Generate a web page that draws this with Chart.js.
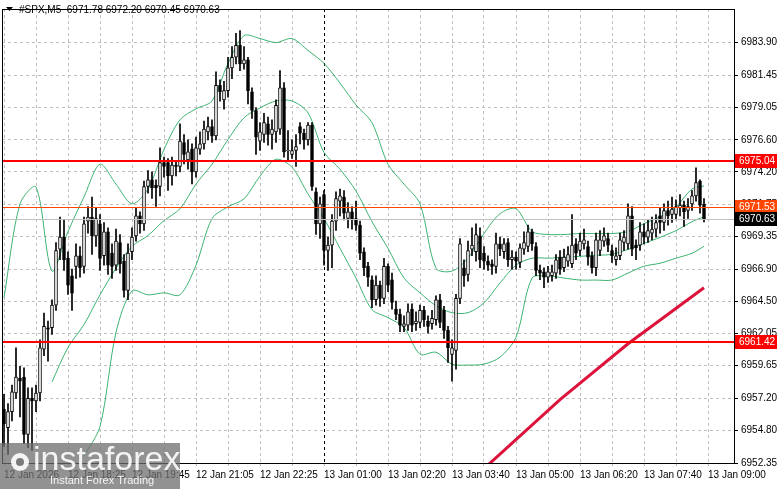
<!DOCTYPE html>
<html>
<head>
<meta charset="utf-8">
<script src="https://cdn.jsdelivr.net/npm/chart.js@4/dist/chart.umd.min.js"></script>
<style>
  html, body { margin: 0; padding: 0; background: #fff; }
  #wrap { width: 781px; height: 489px; position: relative; }
</style>
</head>
<body>
<div id="wrap"><canvas id="chart" width="781" height="489"></canvas></div>
<script>
// -- data (5 min bars) --
const opens = [
  6956.4,6955.0,6956.2,6957.6,6958.7,6958.8,6954.5,6957.2,
  6957.0,6957.6,6960.9,6962.5,6962.5,6964.2,6968.4,6969.3,
  6967.7,6966.4,6967.1,6967.9,6967.1,6970.5,6970.8,6969.4,
  6970.3,6967.9,6969.7,6968.1,6967.2,6968.9,6967.5,6965.3,
  6968.2,6969.4,6970.9,6970.3,6973.1,6973.6,6973.2,6973.1,
  6974.9,6974.9,6973.9,6974.7,6974.6,6976.4,6975.1,6975.9,
  6974.2,6975.9,6976.3,6977.2,6977.6,6976.9,6980.7,6979.6,
  6980.3,6982.0,6982.8,6983.7,6982.3,6982.6,6980.2,6978.8,
  6976.5,6977.0,6977.8,6977.0,6977.2,6977.4,6980.5,6975.8,
  6975.5,6975.8,6977.6,6977.1,6976.6,6977.7,6972.7,6970.3,
  6972.5,6968.3,6968.7,6970.5,6972.0,6972.3,6970.7,6971.2,
  6970.7,6970.2,6968.2,6967.1,6966.1,6964.6,6965.7,6964.7,
  6967.1,6966.1,6963.9,6963.5,6962.6,6962.7,6963.9,6962.8,
  6962.9,6963.8,6963.0,6962.8,6963.1,6964.6,6963.8,6962.3,
  6960.5,6960.8,6964.7,6967.0,6966.5,6968.4,6968.2,6969.4,
  6968.1,6967.5,6967.3,6967.1,6968.8,6968.2,6968.9,6967.6,
  6967.8,6967.4,6968.4,6968.6,6969.7,6968.6,6966.8,6966.7,
  6966.3,6966.4,6966.6,6967.8,6967.0,6967.5,6967.3,6968.8,
  6968.3,6968.8,6968.6,6967.9,6967.0,6968.3,6969.0,6969.2,
  6968.3,6967.6,6967.9,6968.9,6968.8,6970.9,6968.7,6968.7,
  6969.7,6969.3,6969.6,6969.9,6970.9,6970.4,6971.3,6971.0,
  6971.0,6971.5,6971.7,6971.3,6971.8,6972.4,6973.5,6971.78
];
const highs = [
  6957.5,6956.8,6958.2,6961.0,6959.6,6959.5,6958.0,6958.0,
  6958.2,6961.6,6963.6,6963.0,6964.6,6968.9,6970.8,6970.6,
  6968.2,6966.9,6968.8,6968.6,6970.8,6971.6,6972.3,6971.5,
  6971.0,6970.4,6970.0,6968.8,6969.9,6969.5,6968.0,6968.8,
  6970.0,6971.5,6971.2,6973.5,6974.3,6974.2,6973.6,6976.0,
  6975.3,6975.2,6975.3,6975.0,6977.8,6977.0,6976.6,6976.3,
  6976.8,6977.2,6978.0,6978.3,6978.1,6981.7,6981.1,6981.0,
  6982.8,6983.6,6984.6,6984.8,6983.6,6982.8,6980.5,6979.0,
  6977.9,6978.6,6978.3,6978.1,6979.6,6981.8,6980.9,6977.3,
  6976.6,6977.0,6977.9,6977.4,6977.9,6977.9,6973.0,6972.3,
  6972.8,6969.3,6971.0,6972.7,6972.9,6972.8,6971.9,6971.6,
  6972.0,6970.5,6968.5,6967.4,6966.4,6966.4,6966.0,6967.7,
  6967.3,6966.6,6964.5,6963.9,6963.4,6964.3,6964.3,6963.7,
  6964.2,6964.1,6963.4,6963.8,6964.9,6965.0,6964.1,6962.6,
  6961.6,6965.0,6969.2,6967.6,6969.0,6970.0,6970.3,6970.0,
  6968.6,6967.9,6967.6,6969.6,6969.3,6969.2,6969.2,6968.3,
  6968.2,6968.8,6969.7,6970.2,6969.9,6968.9,6967.2,6967.0,
  6967.1,6967.2,6968.0,6968.3,6968.4,6968.6,6971.0,6969.2,
  6969.6,6969.9,6969.0,6968.2,6969.6,6969.8,6970.0,6969.6,
  6968.7,6968.5,6969.6,6969.8,6971.8,6971.6,6969.1,6970.4,
  6970.3,6970.6,6970.8,6971.0,6971.5,6971.8,6972.0,6972.3,
  6972.1,6972.5,6972.0,6972.2,6972.8,6974.5,6973.6,6972.20
];
const lows = [
  6953.6,6953.0,6955.5,6957.2,6955.8,6953.8,6953.5,6953.3,
  6956.2,6957.0,6960.4,6960.0,6962.0,6963.8,6967.6,6966.8,
  6965.0,6963.8,6966.2,6966.3,6966.6,6969.6,6968.0,6968.6,
  6966.8,6967.2,6966.5,6966.2,6966.8,6966.6,6964.8,6964.6,
  6967.6,6969.0,6969.6,6969.8,6972.6,6972.2,6971.6,6972.4,
  6973.8,6972.8,6973.2,6973.9,6974.2,6974.8,6974.4,6973.3,
  6973.8,6975.5,6975.9,6976.6,6976.4,6976.6,6979.5,6978.9,
  6979.8,6981.2,6982.3,6981.8,6981.9,6979.3,6978.2,6975.5,
  6975.8,6976.4,6976.2,6975.9,6976.4,6977.0,6975.3,6975.0,
  6975.2,6974.6,6976.3,6975.9,6976.2,6972.8,6969.5,6969.2,
  6967.2,6966.8,6967.0,6969.8,6970.9,6970.6,6970.0,6969.9,
  6969.8,6967.6,6966.4,6965.6,6964.0,6964.2,6964.1,6964.3,
  6965.2,6963.9,6963.1,6962.2,6962.2,6962.3,6962.2,6962.3,
  6962.5,6962.6,6962.1,6962.4,6962.7,6962.5,6961.7,6959.9,
  6958.5,6959.4,6964.3,6965.6,6966.0,6967.9,6967.5,6967.0,
  6966.9,6966.8,6966.5,6966.6,6967.9,6967.7,6967.1,6966.9,
  6966.9,6967.0,6968.0,6968.2,6968.3,6966.4,6966.1,6965.5,
  6965.9,6966.0,6966.2,6966.5,6966.7,6967.1,6967.0,6967.6,
  6967.9,6968.4,6967.2,6966.6,6966.4,6967.9,6968.6,6968.2,
  6967.4,6967.2,6967.6,6968.3,6968.4,6967.9,6967.6,6968.3,
  6968.8,6968.9,6969.1,6969.3,6969.6,6969.8,6970.2,6970.4,
  6970.6,6970.9,6970.1,6970.7,6971.3,6972.0,6971.1,6970.45
];
const closes = [
  6955.3,6956.2,6957.7,6958.8,6958.5,6954.5,6957.2,6957.0,
  6957.6,6961.0,6962.6,6962.4,6964.2,6968.3,6969.3,6967.6,
  6965.7,6965.1,6967.9,6967.0,6970.3,6970.8,6969.4,6970.7,
  6967.7,6969.7,6967.2,6967.1,6969.0,6967.3,6965.3,6968.1,
  6969.3,6970.9,6970.3,6973.1,6973.6,6973.0,6973.0,6974.9,
  6974.6,6973.9,6974.7,6974.6,6976.5,6975.5,6975.7,6974.2,
  6976.0,6976.3,6977.4,6977.6,6976.9,6980.7,6980.2,6980.3,
  6982.0,6982.8,6983.7,6982.3,6982.6,6980.3,6978.8,6976.8,
  6977.2,6977.9,6977.0,6977.4,6979.2,6980.5,6975.7,6975.8,
  6975.8,6976.1,6977.1,6976.6,6977.7,6973.1,6970.3,6971.8,
  6968.3,6968.7,6970.5,6972.2,6972.4,6971.1,6971.2,6970.6,
  6970.2,6968.1,6967.0,6966.3,6964.6,6965.7,6964.7,6967.1,
  6965.7,6964.4,6963.5,6962.7,6962.8,6963.7,6962.7,6963.0,
  6963.8,6963.1,6962.6,6963.2,6964.6,6962.9,6962.3,6961.0,
  6961.0,6964.7,6968.8,6966.4,6968.3,6968.7,6969.5,6967.6,
  6967.5,6967.2,6967.1,6968.8,6968.4,6968.8,6967.6,6967.8,
  6967.5,6968.5,6968.9,6969.7,6968.8,6966.8,6966.6,6966.3,
  6966.7,6966.7,6967.6,6966.9,6967.8,6968.0,6968.7,6968.1,
  6969.0,6969.1,6967.8,6967.0,6969.1,6969.1,6969.4,6968.7,
  6967.9,6967.9,6969.1,6969.3,6970.9,6968.4,6968.5,6969.7,
  6969.3,6969.8,6969.9,6970.4,6970.4,6971.3,6970.9,6971.4,
  6971.6,6971.7,6971.2,6971.6,6972.4,6973.4,6971.7,6970.63
];

// Bollinger bands, sampled every 4 bars
const bandIdx = [0,4,8,12,16,20,24,28,32,36,40,44,48,52,56,60,64,68,72,76,80,84,88,
  92,96,100,104,108,112,116,120,124,128,132,136,140,144,148,152,156,160,164,168,172,175];
const bandUpper = [6964.75,6971.80,6973.06,6966.75,6969.72,6972.32,6974.77,6973.28,6971.80,
  6972.91,6975.88,6978.11,6978.93,6979.52,6982.34,6984.42,6984.20,6983.90,6984.20,6983.31,
  6982.34,6980.86,6979.22,6977.89,6974.77,6973.28,6971.80,6966.97,6966.75,6967.72,6969.57,
  6971.06,6971.43,6969.72,6969.50,6969.50,6969.57,6969.57,6969.57,6969.72,6970.31,6970.83,
  6971.58,6972.91,6973.14];
const bandMiddle = [null,null,null,6958.44,6961.03,6962.74,6964.97,6966.97,6968.61,6969.42,
  6970.54,6971.43,6973.28,6974.77,6976.62,6978.26,6979.00,6979.52,6979.52,6978.63,6975.66,
  6974.40,6972.76,6970.46,6968.46,6966.23,6965.12,6964.15,6963.63,6963.63,6964.37,6965.86,
  6967.20,6967.72,6967.72,6967.79,6967.86,6967.94,6968.01,6968.38,6968.83,6969.28,6969.79,
  6970.46,6970.83];
const bandLower = [null,null,null,null,null,6952.87,6955.09,6962.15,6965.27,6964.97,6965.12,
  6964.97,6967.20,6970.69,6971.58,6972.17,6973.88,6975.14,6974.55,6972.54,6970.69,6968.46,
  6966.23,6963.86,6963.26,6962.52,6960.51,6960.66,6959.77,6959.70,6959.77,6960.29,6961.78,
  6966.23,6966.38,6966.23,6966.08,6966.08,6966.08,6966.60,6967.12,6967.34,6967.72,6968.09,
  6968.61];

// red moving average
const maIdx = [121, 139, 156, 175];
const maValues = [6952.2, 6957.1, 6961.3, 6965.5];

const totalBars = 183;
const timeTickIdx = [0,16,32,48,64,80,96,112,128,144,160,176];
const timeTickText = ['12 Jan 2026','12 Jan 18:25','12 Jan 19:45','12 Jan 21:05','12 Jan 22:25',
  '13 Jan 01:00','13 Jan 02:20','13 Jan 03:40','13 Jan 05:00','13 Jan 06:20','13 Jan 07:40','13 Jan 09:00'];
const priceTicks = [6952.35,6954.80,6957.20,6959.65,6962.05,6964.50,6966.90,6969.35,
  6971.75,6974.20,6976.60,6979.05,6981.45,6983.90];

const levelValues = [6975.04, 6971.53, 6970.63, 6961.42];
const levelColors = ['#ff0000', '#ff4500', '#c0c0c0', '#ff0000'];
const levelBoxColors = ['#ff0000', '#ff4500', '#000000', '#ff0000'];
const levelWidths = [2, 1, 1, 2];

const header = '#SPX,M5  6971.78 6972.20 6970.45 6970.63';
const priceMin = 6952.35, priceMax = 6986.42;
const uiFont = '"Liberation Sans", Arial, sans-serif';

// -- build datasets --
const labels = Array.from({ length: totalBars }, (_, i) => 'b' + i);
const spread = (idx, vals) => {
  const out = Array(totalBars).fill(null);
  idx.forEach((k, j) => { out[k] = vals[j]; });
  return out;
};
const bodies = opens.map((o, i) => {
  const c = closes[i];
  return Math.abs(c - o) < 0.05 ? [o - 0.03, o + 0.03] : [o, c];
});
const wicks = lows.map((l, i) => [l, highs[i]]);
const bodyFill = opens.map((o, i) => closes[i] >= o ? '#ffffff' : '#000000');

const bandLine = vals => ({
  type: 'line',
  data: spread(bandIdx, vals),
  borderColor: '#3cb371',
  borderWidth: 1,
  pointRadius: 0,
  spanGaps: true,
  tension: 0.3
});

const overlay = {
  id: 'overlay',
  beforeDatasetsDraw(chart) {
    const { ctx, chartArea: a, scales: { x } } = chart;
    ctx.save();
    // vertical dashed marker at 01:00
    const vx = Math.round(x.getPixelForValue(80)) + 0.5;
    ctx.strokeStyle = '#000';
    ctx.lineWidth = 1;
    ctx.setLineDash([3, 3]);
    ctx.beginPath(); ctx.moveTo(vx, a.top); ctx.lineTo(vx, a.bottom); ctx.stroke();
    ctx.restore();
  },
  afterDatasetsDraw(chart) {
    const { ctx, chartArea: a, scales: { y } } = chart;
    ctx.save();
    levelValues.forEach((v, i) => {
      const py = Math.round(y.getPixelForValue(v)) + (levelWidths[i] === 1 ? 0.5 : 0);
      ctx.strokeStyle = levelColors[i];
      ctx.lineWidth = levelWidths[i];
      ctx.beginPath(); ctx.moveTo(a.left, py); ctx.lineTo(a.right, py); ctx.stroke();
    });
    ctx.restore();
  },
  afterDraw(chart) {
    const { ctx, chartArea: a, scales: { y } } = chart;
    ctx.save();
    ctx.strokeStyle = '#000';
    ctx.lineWidth = 1;
    ctx.strokeRect(a.left + 0.5, a.top + 0.5, a.right - a.left, a.bottom - a.top);

    ctx.font = '10px ' + uiFont;
    ctx.textBaseline = 'middle';
    levelValues.forEach((v, i) => {
      const py = Math.round(y.getPixelForValue(v));
      ctx.fillStyle = levelBoxColors[i];
      ctx.fillRect(a.right + 1, py - 7, 42, 14);
      ctx.fillStyle = '#fff';
      ctx.fillText(v.toFixed(2), a.right + 5, py);
    });

    // header
    ctx.fillStyle = '#000';
    ctx.beginPath(); ctx.moveTo(6, 7); ctx.lineTo(13, 7); ctx.lineTo(9.5, 11); ctx.closePath(); ctx.fill();
    ctx.font = '10px ' + uiFont;
    ctx.fillText(header, 19, 10);

    // watermark
    ctx.fillStyle = 'rgba(110,110,110,0.75)';
    ctx.fillRect(0, 443, 180, 46);
    ctx.fillStyle = 'rgba(255,255,255,0.9)';
    ctx.beginPath(); ctx.arc(20, 462, 9, 0, Math.PI * 2); ctx.fill();
    ctx.fillStyle = 'rgba(110,110,110,0.9)';
    ctx.beginPath(); ctx.arc(20, 462, 4, 0, Math.PI * 2); ctx.fill();
    ctx.fillStyle = 'rgba(255,255,255,0.9)';
    ctx.font = '34px ' + uiFont;
    ctx.fillText('instaforex', 33, 461);
    ctx.font = '11px ' + uiFont;
    ctx.fillText('Instant Forex Trading', 50, 481);
    ctx.restore();
  }
};

new Chart(document.getElementById('chart'), {
  data: {
    labels,
    datasets: [
      { type: 'bar', data: bodies, backgroundColor: bodyFill, borderColor: '#000', borderWidth: 1,
        borderSkipped: false, barThickness: 3, grouped: false },
      { type: 'bar', data: wicks, backgroundColor: '#000', borderWidth: 0, barThickness: 1, grouped: false },
      bandLine(bandUpper),
      bandLine(bandMiddle),
      bandLine(bandLower),
      { type: 'line', data: spread(maIdx, maValues), borderColor: '#dc143c', borderWidth: 3,
        pointRadius: 0, spanGaps: true }
    ]
  },
  options: {
    responsive: false,
    animation: false,
    events: [],
    layout: { padding: { left: 2, top: 2, right: 0, bottom: 0 } },
    plugins: { legend: { display: false }, tooltip: { enabled: false } },
    scales: {
      x: {
        type: 'category',
        offset: true,
        afterFit: s => { s.height = 26; },
        grid: {
          offset: false,
          tickLength: 3,
          color: c => c.index % 8 === 0 ? '#c0c0c0' : 'rgba(0,0,0,0)'
        },
        border: { display: false, dash: [3, 3] },
        ticks: {
          autoSkip: false,
          maxRotation: 0,
          align: 'start',
          padding: 3,
          color: '#000',
          font: { family: uiFont, size: 10 },
          callback: (v, i) => {
            const k = timeTickIdx.indexOf(i);
            return k >= 0 ? timeTickText[k] : '';
          }
        }
      },
      y: {
        position: 'right',
        min: priceMin,
        max: priceMax,
        afterFit: s => { s.width = 47; },
        afterBuildTicks: s => { s.ticks = priceTicks.map(v => ({ value: v })); },
        grid: { color: '#c0c0c0', tickLength: 4, tickColor: '#000' },
        border: { display: false, dash: [3, 3] },
        ticks: {
          padding: 3,
          color: '#000',
          font: { family: uiFont, size: 10 },
          callback: v => Number(v).toFixed(2)
        }
      }
    }
  },
  plugins: [overlay]
});
</script>
</body>
</html>
